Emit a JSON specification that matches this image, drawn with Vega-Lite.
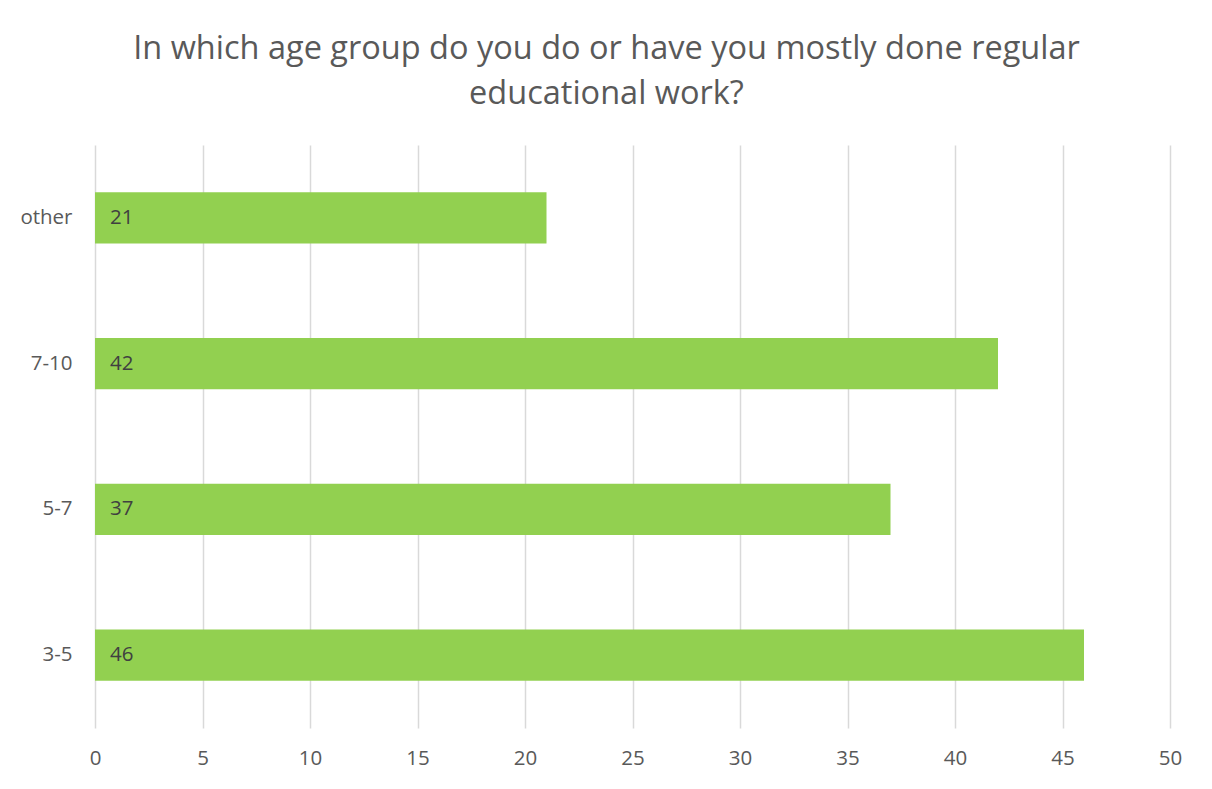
{
  "$schema": "https://vega.github.io/schema/vega-lite/v6.json",
  "width": 1075,
  "height": 583,
  "autosize": "none",
  "padding": {"left": 95, "top": 145, "right": 42, "bottom": 61},
  "background": "white",
  "config": {
    "font": "Open Sans",
    "view": {"stroke": null}
  },
  "title": {
    "text": ["In which age group do you do or have you mostly done regular", "educational work?"],
    "fontSize": 32.5,
    "fontWeight": "normal",
    "color": "#595959",
    "font": "Open Sans",
    "anchor": "middle",
    "dx": -26,
    "offset": 35,
    "lineHeight": 45
  },
  "data": {
    "values": [
      {"group": "other", "count": 21},
      {"group": "7-10", "count": 42},
      {"group": "5-7", "count": 37},
      {"group": "3-5", "count": 46}
    ]
  },
  "encoding": {
    "y": {
      "field": "group",
      "type": "nominal",
      "sort": ["other", "7-10", "5-7", "3-5"],
      "scale": {"paddingInner": 0.65, "paddingOuter": 0.325},
      "axis": {
        "title": null,
        "domain": false,
        "ticks": false,
        "labelFontSize": 20.5,
        "labelColor": "#595959",
        "labelPadding": 23,
        "labelFont": "Open Sans"
      }
    }
  },
  "layer": [
    {
      "mark": {"type": "bar", "color": "#92D050"},
      "encoding": {
        "x": {
          "field": "count",
          "type": "quantitative",
          "scale": {"domain": [0, 50], "nice": false},
          "axis": {
            "title": null,
            "values": [0, 5, 10, 15, 20, 25, 30, 35, 40, 45, 50],
            "domain": false,
            "ticks": false,
            "grid": true,
            "gridColor": "#d9d9d9",
            "gridWidth": 1.5,
            "labelFlush": false,
            "labelFontSize": 20.5,
            "labelColor": "#595959",
            "labelPadding": 20,
            "labelFont": "Open Sans"
          }
        }
      }
    },
    {
      "mark": {"type": "text", "align": "left", "dx": 15, "fontSize": 20.5, "color": "#404040", "font": "Open Sans"},
      "encoding": {
        "x": {"datum": 0, "type": "quantitative"},
        "text": {"field": "count", "type": "quantitative"}
      }
    }
  ]
}
